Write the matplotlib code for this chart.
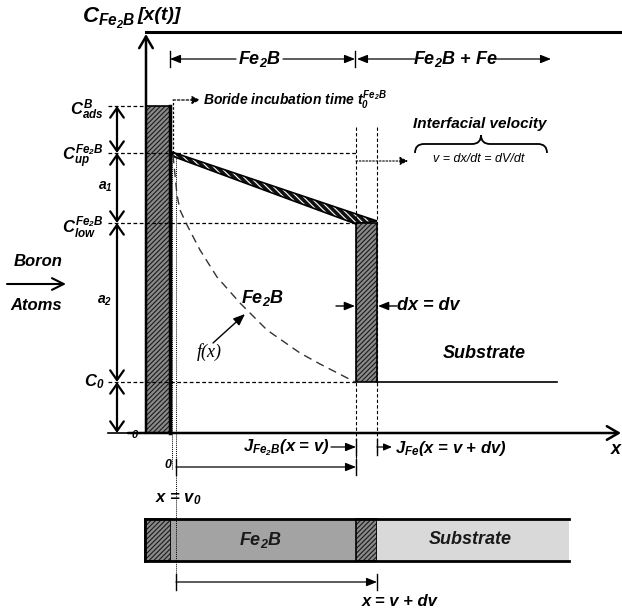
import matplotlib
matplotlib.use("Agg")
import matplotlib.pyplot as plt
from matplotlib.patches import Rectangle, Polygon, PathPatch
from matplotlib.path import Path

plt.rcParams["font.family"] = ["Liberation Sans", "DejaVu Sans"]
plt.rcParams["font.weight"] = "bold"
plt.rcParams["font.style"] = "italic"
plt.rcParams["mathtext.fontset"] = "custom"
plt.rcParams["mathtext.rm"] = "Liberation Sans:bold:italic"
plt.rcParams["mathtext.it"] = "Liberation Sans:bold:italic"
plt.rcParams["mathtext.bf"] = "Liberation Sans:bold:italic"
plt.rcParams["hatch.linewidth"] = 0.8

# boron concentration levels (drawing rows, top of frame = 0)
level_labels = [r"$C^{B}_{ads}$", r"$C^{Fe_2B}_{up}$", r"$C^{Fe_2B}_{low}$", r"$C_0$"]
level_rows = [106, 153, 223, 382]
zero_row = 433
top_row = 32

# interface positions along x (drawing columns)
x_surface = 146
x_v0 = 172
x_v0b = 176
x_v = 356
x_vdv = 377
x_end = 569

curve_x = [173, 175, 177, 180, 187, 200, 217, 240, 267, 300, 320, 355]
curve_y = [155, 175, 195, 210, 225, 250, 277, 303, 330, 353, 364, 382]

# bottom strip layers
strip_left = [145, 171, 356, 377]
strip_right = [171, 356, 377, 569]
strip_fill = ["#8a8a8a", "#a3a3a3", "#8a8a8a", "#d9d9d9"]
strip_hatch = [True, False, True, False]
strip_text = ["", r"$Fe_2B$", "", "Substrate"]
strip_top, strip_bot = 519, 561

fig = plt.figure(figsize=(6.22, 6.11), dpi=100)
ax = fig.add_axes([0, 0, 1, 1])
ax.set_xlim(0, 622)
ax.set_ylim(611, 0)
ax.axis("off")


def arrow(x0, y0, x1, y1, style="-|>", lw=1.0, hl=0.45, hw=0.18, ms=14, ls="-"):
    if style == "-|>":
        st = f"-|>,head_length={hl},head_width={hw}"
    else:
        st = style
    ax.annotate("", xy=(x1, y1), xytext=(x0, y0),
                arrowprops=dict(arrowstyle=st, lw=lw, color="black",
                                mutation_scale=ms, shrinkA=0, shrinkB=0,
                                linestyle=ls))


def vbar(x, y, h=8, lw=1.0):
    ax.plot([x, x], [y - h, y + h], color="black", lw=lw)


def txt(x, y, s, size=12, ha="center", **kw):
    ax.text(x, y, s, fontsize=size, ha=ha, va="center", **kw)


def hatched_rect(x0, x1, y0, y1, fill="#8a8a8a"):
    ax.add_patch(Rectangle((x0, y0), x1 - x0, y1 - y0, facecolor=fill,
                           edgecolor="#1a1a1a", hatch="///////", lw=0))
    ax.add_patch(Rectangle((x0, y0), x1 - x0, y1 - y0, fill=False,
                           edgecolor="black", lw=1.2))


# frame: axes and top line
ax.plot([x_surface, 622], [top_row, top_row], color="black", lw=2.2)
arrow(x_surface, zero_row, x_surface, top_row + 2, style="->,head_length=0.6,head_width=0.35",
      lw=1.8, ms=14)
arrow(128, zero_row, 621, zero_row, style="->,head_length=0.6,head_width=0.35", lw=1.8, ms=14)
txt(82, 18, r"$C_{Fe_2B}$", size=16, ha="left")
txt(138, 15, "[x(t)]", size=14, ha="left")
txt(616, 450, "x", size=13)
txt(135, 435, "0", size=8)

# surface boride bar
hatched_rect(x_surface, 171, level_rows[0], zero_row)
ax.plot([170, 170], [level_rows[0], zero_row], color="black", lw=2.5)

# level lines and labels
for lab, row in zip(level_labels, level_rows):
    x_stop = x_surface if row == level_rows[0] else x_v
    ax.plot([108, x_stop], [row, row], color="black", lw=0.9, ls=(0, (3, 2)))
    txt(104, row + 4 if row != level_rows[3] else row, lab, size=12, ha="right")
ax.plot([108, 130], [zero_row, zero_row], color="black", lw=1.2)

# dimension arrows between levels
dim_rows = level_rows + [zero_row]
for r0, r1 in zip(dim_rows[:-1], dim_rows[1:]):
    arrow(117, (r0 + r1) / 2, 117, r0, style="->,head_length=0.5,head_width=0.35", lw=1.6, ms=14)
    arrow(117, (r0 + r1) / 2, 117, r1, style="->,head_length=0.5,head_width=0.35", lw=1.6, ms=14)
txt(105, 187, r"$a_1$", size=10)
txt(105, 301, r"$a_2$", size=10)

# boron flux
txt(38, 262, "Boron", size=12)
arrow(7, 284, 66, 284, style="->,head_length=0.6,head_width=0.3", lw=1.5, ms=14)
txt(36, 306, "Atoms", size=12)

# incubation time marker
ax.plot([x_v0, x_v0], [155, 470], color="black", lw=0.7, ls=(0, (1, 1)))
ax.plot([x_v0b, x_v0b], [155, 590], color="black", lw=0.7, ls=(0, (1, 1)))
ax.plot([173, 173], [level_rows[1], 100], color="black", lw=0.9, ls=(0, (2, 1.5)))
arrow(173, 100, 200, 100, lw=0.9, ls=(0, (2, 1.5)), hl=0.4, hw=0.2, ms=12)
txt(203, 100, r"Boride incubation time $t_0^{Fe_2B}$", size=10, ha="left")

# layer wedge on top of the profile
wedge = [(172, 152), (x_vdv, 221), (x_v, 224), (172, 156)]
ax.add_patch(Polygon(wedge, closed=True, facecolor="#111111", edgecolor="white",
                     hatch="\\\\\\\\\\", lw=0))
ax.add_patch(Polygon(wedge, closed=True, fill=False, edgecolor="black", lw=1.2))

# interface slab dx
hatched_rect(x_v, x_vdv, 223, level_rows[3])
ax.plot([x_vdv, 557], [level_rows[3], level_rows[3]], color="black", lw=1.2)

# profile curve
ax.plot(curve_x, curve_y, color="#333333", lw=1.0, ls=(0, (6, 4)))
txt(262, 298, r"$Fe_2B$", size=13)
txt(209, 352, "f(x)", size=13, family="Liberation Serif", fontweight="normal")
arrow(213, 343, 245, 314, lw=1.0, hl=0.5, hw=0.2)

# vertical interface guides
for xc, y_end in [(x_v, 472), (x_vdv, 455)]:
    ax.plot([xc, xc], [127, y_end], color="black", lw=0.8, ls=(0, (3, 2)))

# dx = dv
arrow(336, 306, x_v - 1, 306, lw=1.0)
arrow(397, 306, x_vdv + 1, 306, lw=1.0)
txt(397, 306, "dx = dv", size=13, ha="left")
txt(484, 353, "Substrate", size=13)

# interfacial velocity
arrow(x_v, 161, 408, 161, lw=0.8, ls=(0, (1.5, 1.5)), hl=0.4, hw=0.2, ms=12)
txt(480, 124, "Interfacial velocity", size=11)
bx0, bx1, by, bh = 415, 547, 144, 9
bxm = (bx0 + bx1) / 2
brace = Path(
    [(bx0, by + bh), (bx0, by), (bx0 + bh, by), (bxm - bh, by), (bxm, by), (bxm, by - bh),
     (bx1, by + bh), (bx1, by), (bx1 - bh, by), (bxm + bh, by), (bxm, by), (bxm, by - bh)],
    [Path.MOVETO, Path.CURVE3, Path.CURVE3, Path.LINETO, Path.CURVE3, Path.CURVE3,
     Path.MOVETO, Path.CURVE3, Path.CURVE3, Path.LINETO, Path.CURVE3, Path.CURVE3])
ax.add_patch(PathPatch(brace, fill=False, lw=1.3, edgecolor="black"))
txt(479, 159, "v = dx/dt = dV/dt", size=9, fontweight="normal")

# phase spans along the top
vbar(170, 59)
arrow(236, 59, 170, 59, lw=0.9)
txt(259, 59, r"$Fe_2B$", size=13)
arrow(283, 59, x_v - 1, 59, lw=0.9)
vbar(x_v - 1, 59)
arrow(415, 59, x_v + 1, 59, lw=0.9)
txt(455, 59, r"$Fe_2B$ + Fe", size=13)
arrow(495, 59, 551, 59, lw=0.9)

# fluxes below the axis
txt(330, 448, r"$J_{Fe_2B}$(x = v)", size=12, ha="right")
arrow(331, 447, x_v, 447, lw=0.9)
vbar(x_v, 447)
vbar(x_vdv, 447)
arrow(x_vdv, 447, 392, 447, lw=0.9, hl=0.35, hw=0.15)
txt(395, 448, r"$J_{Fe}$(x = v + dv)", size=12, ha="left")

# layer thickness markers
txt(168, 465, "0", size=9)
vbar(x_v0b, 467)
arrow(x_v0b, 467, x_v, 467, lw=0.9)
vbar(x_v, 467)
txt(178, 499, r"x = $v_0$", size=12)

# bottom strip
for l, r, c, h, s in zip(strip_left, strip_right, strip_fill, strip_hatch, strip_text):
    if h:
        hatched_rect(l, r, strip_top, strip_bot, fill=c)
    else:
        ax.add_patch(Rectangle((l, strip_top), r - l, strip_bot - strip_top,
                               facecolor=c, edgecolor="none", lw=0))
    if s:
        txt((l + r) / 2 - 3, 540, s, size=13, color="#1a1a1a")
ax.plot([strip_left[0], x_end], [strip_top, strip_top], color="black", lw=2)
ax.plot([strip_left[0], x_end], [strip_bot, strip_bot], color="black", lw=2)
ax.plot([strip_left[0], strip_left[0]], [strip_top, strip_bot], color="black", lw=2)

vbar(x_v0b, 582)
arrow(x_v0b, 582, x_vdv, 582, lw=0.9)
vbar(x_vdv, 582)
txt(400, 601, "x = v + dv", size=12)

fig.savefig("out.png", dpi=100)
